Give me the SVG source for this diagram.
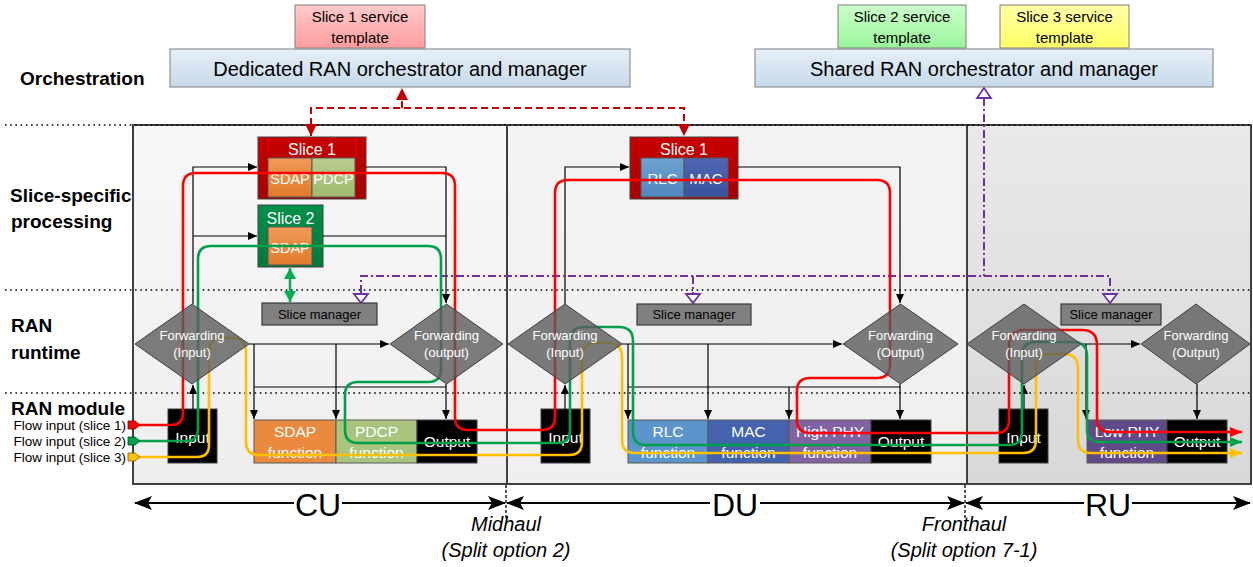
<svg xmlns="http://www.w3.org/2000/svg" width="1253" height="567" viewBox="0 0 1253 567">
<defs>
<style>
text{font-family:"Liberation Sans",Arial,sans-serif}
.lbl{font-weight:bold;font-size:19px;fill:#000}
.tpl{font-size:15px;fill:#000;text-anchor:middle}
.orch{font-size:20px;fill:#000;text-anchor:middle}
.wt{fill:#fff;text-anchor:middle}
.sm{font-size:13px;fill:#000;text-anchor:middle}
.fw{font-size:13px;fill:#fff;text-anchor:middle}
.fn{font-size:15.5px;fill:#fff;text-anchor:middle}
.io{fill:#000;stroke:#404040;stroke-width:1}
.inner{stroke:#595959;stroke-width:1}
.dia{fill:#5c5c5c;fill-opacity:0.8;stroke:#404040;stroke-width:1}
.smb{fill:#808080;stroke:#3a3a3a;stroke-width:1.2}
.con{fill:none;stroke:#000;stroke-width:1.2}
.dot{stroke:#000;stroke-width:1.7;stroke-dasharray:1.6 3.6;fill:none}
.flow{fill:none;stroke-width:2.6;stroke-linejoin:round}
.pur{fill:none;stroke:#7030a0;stroke-width:2;stroke-dasharray:8 3 2 3}
.ptri{fill:#fff;stroke:#7030a0;stroke-width:1.8}
.rdash{fill:none;stroke:#c00000;stroke-width:2;stroke-dasharray:7 4}
.axis{fill:none;stroke:#000;stroke-width:2}
.ax{font-size:32px;fill:#000;text-anchor:middle}
.it{font-size:20px;font-style:italic;fill:#000;text-anchor:middle}
.fl{font-size:13.5px;fill:#000;text-anchor:end}
</style>
<linearGradient id="gOrch" x1="0" y1="0" x2="0" y2="1"><stop offset="0" stop-color="#e8f0f8"/><stop offset="1" stop-color="#c5d8e9"/></linearGradient>
<linearGradient id="gT1" x1="0" y1="0" x2="0" y2="1"><stop offset="0" stop-color="#ffcaca"/><stop offset="1" stop-color="#ff9d9d"/></linearGradient>
<linearGradient id="gT2" x1="0" y1="0" x2="0" y2="1"><stop offset="0" stop-color="#ccffcc"/><stop offset="1" stop-color="#99f599"/></linearGradient>
<linearGradient id="gT3" x1="0" y1="0" x2="0" y2="1"><stop offset="0" stop-color="#ffffa8"/><stop offset="1" stop-color="#ffff66"/></linearGradient>
<linearGradient id="gCU" x1="0" y1="0" x2="0" y2="1"><stop offset="0" stop-color="#f8f8f8"/><stop offset="1" stop-color="#eeeeee"/></linearGradient>
<linearGradient id="gDU" x1="0" y1="0" x2="0" y2="1"><stop offset="0" stop-color="#f3f3f3"/><stop offset="1" stop-color="#efefef"/></linearGradient>
<linearGradient id="gRU" x1="0" y1="0" x2="0" y2="1"><stop offset="0" stop-color="#e9e9e9"/><stop offset="1" stop-color="#d8d8d8"/></linearGradient>
<linearGradient id="gS1" x1="0" y1="0" x2="0" y2="1"><stop offset="0" stop-color="#c80000"/><stop offset="1" stop-color="#a80000"/></linearGradient>
<linearGradient id="gS2" x1="0" y1="0" x2="0" y2="1"><stop offset="0" stop-color="#00904a"/><stop offset="1" stop-color="#007a3a"/></linearGradient>
<linearGradient id="gSDAP" x1="0" y1="0" x2="0" y2="1"><stop offset="0" stop-color="#f09a58"/><stop offset="1" stop-color="#e07a2c"/></linearGradient>
<linearGradient id="gPDCP" x1="0" y1="0" x2="0" y2="1"><stop offset="0" stop-color="#b9cd8e"/><stop offset="1" stop-color="#a0ba6e"/></linearGradient>
<linearGradient id="gRLC" x1="0" y1="0" x2="0" y2="1"><stop offset="0" stop-color="#6fa2d2"/><stop offset="1" stop-color="#4f87c0"/></linearGradient>
<linearGradient id="gMAC" x1="0" y1="0" x2="0" y2="1"><stop offset="0" stop-color="#5066b4"/><stop offset="1" stop-color="#3a519d"/></linearGradient>
<marker id="ab" markerWidth="9" markerHeight="8" refX="9" refY="4" orient="auto" markerUnits="userSpaceOnUse"><path d="M0,0 L9,4 L0,8 z" fill="#000"/></marker>
<marker id="ar" markerWidth="12" markerHeight="10" refX="12" refY="5" orient="auto" markerUnits="userSpaceOnUse"><path d="M0,0 L12,5 L0,10 z" fill="#ff0000"/></marker>
<marker id="ag" markerWidth="12" markerHeight="10" refX="12" refY="5" orient="auto" markerUnits="userSpaceOnUse"><path d="M0,0 L12,5 L0,10 z" fill="#00a04b"/></marker>
<marker id="ay" markerWidth="12" markerHeight="10" refX="12" refY="5" orient="auto" markerUnits="userSpaceOnUse"><path d="M0,0 L12,5 L0,10 z" fill="#ffc000"/></marker>
<marker id="agd" markerWidth="12" markerHeight="12" refX="11" refY="6" orient="auto-start-reverse" markerUnits="userSpaceOnUse"><path d="M0,0 L11,6 L0,12 z" fill="#00b050"/></marker>
<marker id="rd" markerWidth="13" markerHeight="12" refX="12" refY="6" orient="auto-start-reverse" markerUnits="userSpaceOnUse"><path d="M0,0 L12,6 L0,12 z" fill="#c00000"/></marker>
<marker id="axm" markerWidth="18" markerHeight="14" refX="17" refY="7" orient="auto-start-reverse" markerUnits="userSpaceOnUse"><path d="M0,0 L18,7 L0,14 L4,7 z" fill="#000"/></marker>
</defs>

<rect width="1253" height="567" fill="#fff"/>

<!-- left labels -->
<g id="labels">
<text class="lbl" x="20" y="85">Orchestration</text>
<text class="lbl" x="10" y="202">Slice-specific</text>
<text class="lbl" x="11" y="228">processing</text>
<text class="lbl" x="11" y="332">RAN</text>
<text class="lbl" x="11" y="359">runtime</text>
<text class="lbl" x="11" y="415">RAN module</text>
<text class="fl" x="126" y="430">Flow input (slice 1)</text>
<text class="fl" x="126" y="446">Flow input (slice 2)</text>
<text class="fl" x="126" y="462">Flow input (slice 3)</text>
</g>

<!-- orchestration -->
<g id="tpl1"><rect x="295" y="5" width="130" height="43" fill="url(#gT1)" stroke="#7f7f7f"/><text class="tpl" x="360" y="22">Slice 1 service</text><text class="tpl" x="360" y="43">template</text></g>
<g id="tpl2"><rect x="838" y="5" width="128" height="43" fill="url(#gT2)" stroke="#7f7f7f"/><text class="tpl" x="902" y="22">Slice 2 service</text><text class="tpl" x="902" y="43">template</text></g>
<g id="tpl3"><rect x="1000" y="5" width="129" height="43" fill="url(#gT3)" stroke="#7f7f7f"/><text class="tpl" x="1064.5" y="22">Slice 3 service</text><text class="tpl" x="1064.5" y="43">template</text></g>
<g id="dedicated"><rect x="170" y="49" width="460" height="38" fill="url(#gOrch)" stroke="#7f7f7f"/><text class="orch" x="400" y="76">Dedicated RAN orchestrator and manager</text></g>
<g id="shared"><rect x="755" y="49" width="458" height="38" fill="url(#gOrch)" stroke="#7f7f7f"/><text class="orch" x="984" y="76">Shared RAN orchestrator and manager</text></g>

<!-- containers -->
<g id="cu"><rect x="133" y="125" width="374" height="359" fill="url(#gCU)" stroke="#404040" stroke-width="2"/></g>
<g id="du"><rect x="507" y="125" width="460" height="359" fill="url(#gDU)" stroke="#404040" stroke-width="2"/></g>
<g id="ru"><rect x="967" y="125" width="284" height="359" fill="url(#gRU)" stroke="#404040" stroke-width="2"/></g>

<g id="separators">
<line class="dot" x1="5" y1="125" x2="1250" y2="125"/>
<line class="dot" x1="5" y1="290" x2="1250" y2="290"/>
<line class="dot" x1="5" y1="393" x2="1250" y2="393"/>
</g>

<!-- slice-specific boxes -->
<g id="cu-slice1"><rect x="258" y="137" width="108" height="62" fill="url(#gS1)" stroke="#404040"/><text class="wt" x="312" y="155" font-size="16">Slice 1</text>
<rect class="inner" x="268" y="158" width="44" height="39" fill="url(#gSDAP)"/><rect class="inner" x="312" y="158" width="43" height="39" fill="url(#gPDCP)"/>
<text class="wt" x="290" y="184" font-size="14.5">SDAP</text><text class="wt" x="333.5" y="184" font-size="14.5">PDCP</text></g>
<g id="cu-slice2"><rect x="258" y="205" width="65" height="62" fill="url(#gS2)" stroke="#404040"/><text class="wt" x="290.5" y="224" font-size="16">Slice 2</text>
<rect class="inner" x="268" y="227" width="44" height="38" fill="url(#gSDAP)"/><text class="wt" x="290" y="253" font-size="14.5">SDAP</text></g>
<g id="du-slice1"><rect x="630" y="137" width="108" height="62" fill="url(#gS1)" stroke="#404040"/><text class="wt" x="684" y="155" font-size="16">Slice 1</text>
<rect class="inner" x="641" y="158" width="43" height="39" fill="url(#gRLC)"/><rect class="inner" x="684" y="158" width="44" height="39" fill="url(#gMAC)"/>
<text class="wt" x="662.5" y="184" font-size="15">RLC</text><text class="wt" x="706" y="184" font-size="15">MAC</text></g>

<!-- RAN module boxes -->
<g id="cu-input"><rect class="io" x="168" y="409" width="49" height="54"/><text class="fn" x="192.5" y="443">Input</text></g>
<g id="cu-sdap"><rect class="inner" x="254" y="420" width="82" height="43" fill="#e98a3e"/><text class="fn" x="295" y="437">SDAP</text><text class="fn" x="295" y="458">function</text></g>
<g id="cu-pdcp"><rect class="inner" x="336" y="420" width="81" height="43" fill="#a9c47f"/><text class="fn" x="376.5" y="437">PDCP</text><text class="fn" x="376.5" y="458">function</text></g>
<g id="cu-output"><rect class="io" x="417" y="420" width="60" height="43"/><text class="fn" x="447" y="447">Output</text></g>

<g id="du-input"><rect class="io" x="541" y="409" width="49" height="54"/><text class="fn" x="565.5" y="443">Input</text></g>
<g id="du-rlc"><rect class="inner" x="628" y="420" width="80" height="43" fill="#5c95cb"/><text class="fn" x="668" y="437">RLC</text><text class="fn" x="668" y="458">function</text></g>
<g id="du-mac"><rect class="inner" x="708" y="420" width="81" height="43" fill="#4562ad"/><text class="fn" x="748.5" y="437">MAC</text><text class="fn" x="748.5" y="458">function</text></g>
<g id="du-highphy"><rect class="inner" x="789" y="420" width="82" height="43" fill="#8064a2"/><text class="fn" x="830" y="437">High PHY</text><text class="fn" x="830" y="458">function</text></g>
<g id="du-output"><rect class="io" x="871" y="420" width="60" height="43"/><text class="fn" x="901" y="447">Output</text></g>

<g id="ru-input"><rect class="io" x="999" y="409" width="49" height="54"/><text class="fn" x="1023.5" y="443">Input</text></g>
<g id="ru-lowphy"><rect class="inner" x="1087" y="420" width="80" height="43" fill="#604a8a"/><text class="fn" x="1127" y="437">Low PHY</text><text class="fn" x="1127" y="458">function</text></g>
<g id="ru-output"><rect class="io" x="1167" y="420" width="60" height="43"/><text class="fn" x="1197" y="447">Output</text></g>

<!-- connectors -->
<g id="connectors">
<path class="con" d="M193,304 V167 H257" marker-end="url(#ab)"/>
<path class="con" d="M193,236 H257" marker-end="url(#ab)"/>
<path class="con" d="M366,167 H446 V303" marker-end="url(#ab)"/>
<path class="con" d="M323,236 H446"/>
<path class="con" d="M249,344 H389" marker-end="url(#ab)"/>
<path class="con" d="M254,344 V419" marker-end="url(#ab)"/>
<path class="con" d="M336,344 V419" marker-end="url(#ab)"/>
<path class="con" d="M254,387 H446"/>
<path class="con" d="M446,384 V419" marker-end="url(#ab)"/>
<path class="con" d="M193,409 V385" marker-end="url(#ab)"/>
<path class="con" d="M565,304 V167 H629" marker-end="url(#ab)"/>
<path class="con" d="M738,167 H900 V303" marker-end="url(#ab)"/>
<path class="con" d="M622,344 H842" marker-end="url(#ab)"/>
<path class="con" d="M628,344 V419" marker-end="url(#ab)"/>
<path class="con" d="M708,344 V419" marker-end="url(#ab)"/>
<path class="con" d="M628,387 H900"/>
<path class="con" d="M789,387 V419" marker-end="url(#ab)"/>
<path class="con" d="M900,384 V419" marker-end="url(#ab)"/>
<path class="con" d="M565,409 V385" marker-end="url(#ab)"/>
<path class="con" d="M1081,344 H1140" marker-end="url(#ab)"/>
<path class="con" d="M1086,344 V419" marker-end="url(#ab)"/>
<path class="con" d="M1197,384 V419" marker-end="url(#ab)"/>
<path class="con" d="M1024,409 V385" marker-end="url(#ab)"/>

<path d="M290,268 V302" fill="none" stroke="#00b050" stroke-width="2.5" marker-start="url(#agd)" marker-end="url(#agd)"/>

<path class="rdash" d="M402,108 V88" marker-end="url(#rd)"/>
<path class="rdash" d="M311,136 V108 H684 V136" marker-start="url(#rd)" marker-end="url(#rd)"/>

<path class="pur" d="M984,98 V276"/>
<path class="pur" d="M361,293 V276 H1110 V293"/>
<path class="pur" d="M693,276 V293"/>
<polygon class="ptri" points="984,88 977,98 991,98"/>
<polygon class="ptri" points="354,294 368,294 361,303"/>
<polygon class="ptri" points="686,294 700,294 693,303"/>
<polygon class="ptri" points="1103,294 1117,294 1110,303"/>

<path class="flow" stroke="#ff0000" marker-end="url(#ar)" d="M139,425 H171 Q183,425 183,413 V186 Q183,173 196,173 H442 Q455,173 455,186 V417 Q455,430 468,430 H542 Q555,430 555,417 V193 Q555,180 568,180 H877 Q890,180 890,193 V365 Q890,378 877,378 H810 Q797,378 797,391 V420 Q797,433 810,433 H996 Q1009,433 1009,420 V345 Q1009,330 1024,330 H1082 Q1097,330 1097,345 V419 Q1097,432 1110,432 H1242"/>
<path class="flow" stroke="#00a04b" marker-end="url(#ag)" d="M139,441 H186 Q198,441 198,429 V259 Q198,246 211,246 H428 Q441,246 441,259 V369 Q441,382 428,382 H358 Q345,382 345,395 V430 Q345,443 358,443 H557 Q570,443 570,430 V341 Q570,327 584,327 H619 Q633,327 633,341 V432 Q633,445 646,445 H1009 Q1022,445 1022,432 V356 Q1022,342 1036,342 H1073 Q1087,342 1087,356 V429 Q1087,442 1100,442 H1242"/>
<path class="flow" stroke="#ffc000" marker-end="url(#ay)" d="M139,457 H197 Q209,457 209,445 V352 Q209,338 223,338 H232 Q246,338 246,352 V442 Q246,455 259,455 H569 Q582,455 582,442 V357 Q582,343 596,343 H608 Q622,343 622,357 V440 Q622,453 635,453 H1023 Q1036,453 1036,440 V368 Q1036,354 1050,354 H1064 Q1078,354 1078,368 V440 Q1078,453 1091,453 H1242"/>

<path class="axis" d="M135,503 H505" marker-start="url(#axm)" marker-end="url(#axm)"/>
<path class="axis" d="M507,503 H964" marker-start="url(#axm)" marker-end="url(#axm)"/>
<path class="axis" d="M966,503 H1250" marker-start="url(#axm)" marker-end="url(#axm)"/>
<line x1="506" y1="485" x2="506" y2="518" stroke="#000" stroke-width="1.3" stroke-dasharray="3 2"/>
<line x1="965" y1="485" x2="965" y2="518" stroke="#000" stroke-width="1.3" stroke-dasharray="3 2"/>
</g>

<g id="flow-inputs">
<polygon points="128,421 135,421 140,425 135,429 128,429" fill="#ff0000" stroke="#7f0000" stroke-width="0.8"/>
<polygon points="128,437 135,437 140,441 135,445 128,445" fill="#00a04b" stroke="#004d24" stroke-width="0.8"/>
<polygon points="128,453 135,453 140,457 135,461 128,461" fill="#ffc000" stroke="#7f6000" stroke-width="0.8"/>
</g>

<g id="cu-fwd-in"><polygon class="dia" points="135,344 192,304 249,344 192,384"/><text class="fw" x="192" y="340">Forwarding</text><text class="fw" x="192" y="357">(Input)</text></g>
<g id="cu-fwd-out"><polygon class="dia" points="390,344 446.5,304 503,344 446.5,384"/><text class="fw" x="446.5" y="340">Forwarding</text><text class="fw" x="446.5" y="357">(output)</text></g>
<g id="du-fwd-in"><polygon class="dia" points="508,344 565,304 622,344 565,384"/><text class="fw" x="565" y="340">Forwarding</text><text class="fw" x="565" y="357">(Input)</text></g>
<g id="du-fwd-out"><polygon class="dia" points="843,344 900.5,304 958,344 900.5,384"/><text class="fw" x="900.5" y="340">Forwarding</text><text class="fw" x="900.5" y="357">(Output)</text></g>
<g id="ru-fwd-in"><polygon class="dia" points="967,344 1024,304 1081,344 1024,384"/><text class="fw" x="1024" y="340">Forwarding</text><text class="fw" x="1024" y="357">(Input)</text></g>
<g id="ru-fwd-out"><polygon class="dia" points="1141,344 1196,304 1250,344 1196,384"/><text class="fw" x="1196" y="340">Forwarding</text><text class="fw" x="1196" y="357">(Output)</text></g>

<g id="cu-sm"><rect class="smb" x="262" y="303" width="115" height="22"/><text class="sm" x="319.5" y="319">Slice manager</text></g>
<g id="du-sm"><rect class="smb" x="637" y="304" width="114" height="21"/><text class="sm" x="694" y="319">Slice manager</text></g>
<g id="ru-sm"><rect class="smb" x="1061" y="304" width="100" height="21"/><text class="sm" x="1111" y="319">Slice manager</text></g>

<g id="axis-labels">
<rect x="294" y="488" width="48" height="30" fill="#fff"/><text class="ax" x="318" y="516">CU</text>
<rect x="710" y="488" width="50" height="30" fill="#fff"/><text class="ax" x="735" y="516">DU</text>
<rect x="1084" y="488" width="48" height="30" fill="#fff"/><text class="ax" x="1108" y="516">RU</text>
<text class="it" x="506" y="531">Midhaul</text>
<text class="it" x="506" y="557">(Split option 2)</text>
<text class="it" x="964" y="531">Fronthaul</text>
<text class="it" x="964" y="557">(Split option 7-1)</text>
</g>
</svg>
